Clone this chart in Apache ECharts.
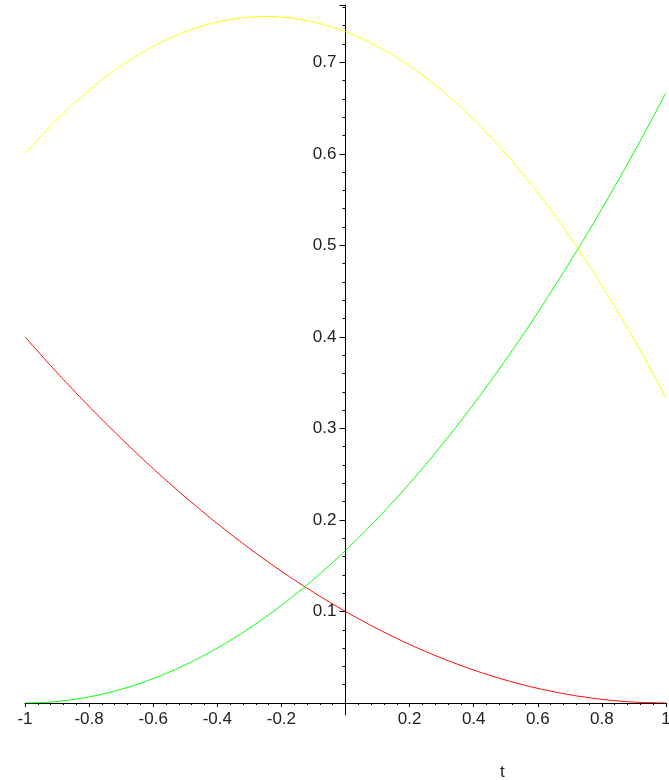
<!DOCTYPE html>
<html>
<head>
<meta charset="utf-8">
<script src="https://cdn.jsdelivr.net/npm/echarts@6/dist/echarts.min.js"></script>
<style>
html,body{margin:0;padding:0;background:#fff;}
#chart{width:669px;height:780px;}
</style>
</head>
<body>
<div id="chart"></div>
<script>
// Sample positions along t
var tValues = [-1, -0.95, -0.9, -0.85, -0.8, -0.75, -0.7, -0.65, -0.6, -0.55, -0.5, -0.45, -0.4, -0.35, -0.3, -0.25, -0.2, -0.15, -0.1, -0.05, 0,
  0.05, 0.1, 0.15, 0.2, 0.25, 0.3, 0.35, 0.4, 0.45, 0.5, 0.55, 0.6, 0.65, 0.7, 0.75, 0.8, 0.85, 0.9, 0.95, 1];
// Values
var redValues = [0.4, 0.3803, 0.361, 0.3423, 0.324, 0.3063, 0.289, 0.2723, 0.256, 0.2403, 0.225, 0.2103, 0.196, 0.1823, 0.169, 0.1563, 0.144, 0.1323, 0.121, 0.1103, 0.1,
  0.0903, 0.081, 0.0723, 0.064, 0.0563, 0.049, 0.0423, 0.036, 0.0303, 0.025, 0.0203, 0.016, 0.0123, 0.009, 0.0063, 0.004, 0.0023, 0.001, 0.0003, 0];
var greenValues = [0, 0.0004, 0.0017, 0.0038, 0.0067, 0.0104, 0.015, 0.0204, 0.0267, 0.0338, 0.0417, 0.0504, 0.06, 0.0704, 0.0817, 0.0938, 0.1067, 0.1204, 0.135, 0.1504, 0.1667,
  0.1838, 0.2017, 0.2204, 0.24, 0.2604, 0.2817, 0.3038, 0.3267, 0.3504, 0.375, 0.4004, 0.4267, 0.4538, 0.4817, 0.5104, 0.54, 0.5704, 0.6017, 0.6338, 0.6667];
var yellowValues = [0.6, 0.6193, 0.6373, 0.654, 0.6693, 0.6833, 0.696, 0.7073, 0.7173, 0.726, 0.7333, 0.7393, 0.744, 0.7473, 0.7493, 0.75, 0.7493, 0.7473, 0.744, 0.7393, 0.7333,
  0.726, 0.7173, 0.7073, 0.696, 0.6833, 0.6693, 0.654, 0.6373, 0.6193, 0.6, 0.5793, 0.5573, 0.534, 0.5093, 0.4833, 0.456, 0.4273, 0.3973, 0.366, 0.3333];
var xTickLabels = ['-1', '-0.8', '-0.6', '-0.4', '-0.2', '', '0.2', '0.4', '0.6', '0.8', '1'];
var yTickLabels = ['', '0.1', '0.2', '0.3', '0.4', '0.5', '0.6', '0.7'];
var axisName = 't';

function pairs(vals) {
  return tValues.map(function (t, i) { return [t, vals[i]]; });
}

var FONT = 'Liberation Sans';
var GRID_LEFT = 25, GRID_RIGHT = 3, CHART_W = 669;
var chart = echarts.init(document.getElementById('chart'), null, {renderer: 'canvas'});
var option = {
  animation: false,
  backgroundColor: '#ffffff',
  grid: [
    {left: GRID_LEFT, right: GRID_RIGHT, top: 5, bottom: 77, containLabel: false, outerBoundsMode: 'none'},
    {left: GRID_LEFT, right: GRID_RIGHT, top: 703, height: 12, containLabel: false, outerBoundsMode: 'none'}
  ],
  xAxis: [
    {
      type: 'value', gridIndex: 0, min: -1, max: 1, interval: 0.2,
      axisLine: {show: true, onZero: true, lineStyle: {color: '#000', width: 1}},
      axisTick: {show: true, length: 4, lineStyle: {color: '#000'}},
      minorTick: {show: true, splitNumber: 5, length: 2, lineStyle: {color: '#000'}},
      splitLine: {show: false},
      axisLabel: {
        margin: 8, color: '#222', fontFamily: FONT, fontSize: 17,
        formatter: function (v) {
          var idx = Math.round((v + 1) / 0.2);
          return xTickLabels[idx] !== undefined ? xTickLabels[idx] : '';
        }
      }
    },
    {
      type: 'value', gridIndex: 1, min: -1, max: 1, show: true,
      axisLine: {show: false}, axisTick: {show: false}, axisLabel: {show: false}, splitLine: {show: false}
    }
  ],
  yAxis: [
    {
      type: 'value', gridIndex: 0, min: 0, max: 0.7626, interval: 0.1,
      position: 'left',
      offset: -(CHART_W - GRID_LEFT - GRID_RIGHT) / 2,
      axisLine: {show: true, onZero: false, lineStyle: {color: '#000', width: 1}},
      axisTick: {show: true, length: 6, lineStyle: {color: '#000'}},
      minorTick: {show: true, splitNumber: 5, length: 3, lineStyle: {color: '#000'}},
      splitLine: {show: false},
      axisLabel: {
        margin: 9, color: '#222', fontFamily: FONT, fontSize: 17,
        showMaxLabel: false,
        formatter: function (v) {
          var idx = Math.round(v / 0.1);
          if (Math.abs(v - idx * 0.1) > 1e-6) return '';
          return yTickLabels[idx] !== undefined ? yTickLabels[idx] : '';
        }
      }
    },
    {
      type: 'value', gridIndex: 1, min: -1, max: 0,
      axisLine: {show: true, onZero: true, lineStyle: {color: '#000', width: 1}},
      axisTick: {show: false}, axisLabel: {show: false}, splitLine: {show: false}
    }
  ],
  graphic: [
    {type: 'text', left: 500, top: 764, style: {text: axisName, fill: '#222', font: '17px "Liberation Sans"'}}
  ],
  series: [
    {type: 'line', xAxisIndex: 0, yAxisIndex: 0, data: pairs(redValues), smooth: true, showSymbol: false, lineStyle: {color: '#ff0000', width: 1}, itemStyle: {color: '#ff0000'}},
    {type: 'line', xAxisIndex: 0, yAxisIndex: 0, data: pairs(greenValues), smooth: true, showSymbol: false, lineStyle: {color: '#00ff00', width: 1}, itemStyle: {color: '#00ff00'}},
    {type: 'line', xAxisIndex: 0, yAxisIndex: 0, data: pairs(yellowValues), smooth: true, showSymbol: false, lineStyle: {color: '#ffff00', width: 1}, itemStyle: {color: '#ffff00'}}
  ]
};
chart.setOption(option);
</script>
</body>
</html>
